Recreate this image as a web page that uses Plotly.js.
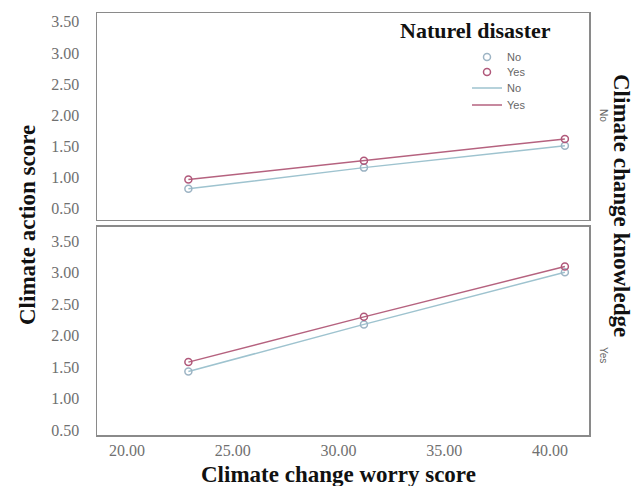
<!DOCTYPE html>
<html>
<head>
<meta charset="utf-8">
<script src="https://cdn.plot.ly/plotly-3.0.1.min.js"></script>
<style>html,body{margin:0;padding:0;background:#fff;}#chart{width:635px;height:486px;}</style>
</head>
<body>
<div id="chart"></div>
<script>
// Data
const worryScore = [22.9, 31.2, 40.7];
const knowledgeNo_disasterNo  = [0.82, 1.16, 1.51];
const knowledgeNo_disasterYes = [0.97, 1.27, 1.62];
const knowledgeYes_disasterNo  = [1.43, 2.18, 3.01];
const knowledgeYes_disasterYes = [1.58, 2.30, 3.10];
const disasterLabels = ['No', 'Yes'];
const knowledgeLabels = ['No', 'Yes'];
const yTicks = [0.5, 1.0, 1.5, 2.0, 2.5, 3.0, 3.5];
const xTicks = [20, 25, 30, 35, 40];

const colNo = '#9ec3cf';
const colYes = '#b5627f';
const mkNo = '#9db4c4';
const mkYes = '#b0587a';

function lineTrace(y, col, name, yaxis, legend, show) {
  return {x: worryScore, y: y, mode: 'lines', name: name, xaxis: yaxis === 'y' ? 'x' : 'x2', yaxis: yaxis,
    line: {color: col, width: 1.5}, legend: legend, showlegend: show, hoverinfo: 'skip'};
}
function markerTrace(y, col, name, yaxis, legend, show) {
  return {x: worryScore, y: y, mode: 'markers', name: name, xaxis: yaxis === 'y' ? 'x' : 'x2', yaxis: yaxis,
    marker: {symbol: 'circle-open', size: 7, color: col, line: {width: 1.5, color: col}},
    legend: legend, showlegend: show, hoverinfo: 'skip'};
}

const data = [
  lineTrace(knowledgeNo_disasterNo, colNo, disasterLabels[0], 'y', 'legend3', true),
  lineTrace(knowledgeNo_disasterYes, colYes, disasterLabels[1], 'y', 'legend4', true),
  markerTrace(knowledgeNo_disasterNo, mkNo, disasterLabels[0], 'y', 'legend', true),
  markerTrace(knowledgeNo_disasterYes, mkYes, disasterLabels[1], 'y', 'legend2', true),
  lineTrace(knowledgeYes_disasterNo, colNo, disasterLabels[0], 'y2', 'legend3', false),
  lineTrace(knowledgeYes_disasterYes, colYes, disasterLabels[1], 'y2', 'legend4', false),
  markerTrace(knowledgeYes_disasterNo, mkNo, disasterLabels[0], 'y2', 'legend', false),
  markerTrace(knowledgeYes_disasterYes, mkYes, disasterLabels[1], 'y2', 'legend2', false)
];

const tickFont = {family: 'Liberation Serif, Times New Roman, serif', size: 16, color: '#707070'};
const titleFont = {family: 'Liberation Serif, Times New Roman, serif', size: 23, color: '#111'};
const legFont = {family: 'Liberation Sans, Arial, sans-serif', size: 11, color: '#666'};
const axLine = {showline: true, linecolor: '#8a8a8a', linewidth: 1.5, mirror: true, showgrid: false, zeroline: false};

function leg(yPix) {
  return {x: (467 - 97) / 492, xanchor: 'left', y: 1 - (yPix - 13) / 422, yanchor: 'middle',
    bgcolor: 'rgba(0,0,0,0)', font: legFont, borderwidth: 0};
}

const layout = {
  width: 635, height: 486,
  margin: {l: 97, r: 46, t: 13, b: 51},
  paper_bgcolor: '#fff', plot_bgcolor: '#fff',
  xaxis: Object.assign({}, axLine, {range: [18.58, 41.84], showticklabels: false, ticks: '', anchor: 'y'}),
  xaxis2: Object.assign({}, axLine, {range: [18.58, 41.84], tickvals: xTicks, tickformat: '.2f', ticks: '',
    tickfont: tickFont, ticklabelstandoff: 0, anchor: 'y2'}),
  yaxis: Object.assign({}, axLine, {domain: [0.5095, 1], range: [0.32, 3.64], tickvals: yTicks, tickformat: '.2f',
    ticks: '', tickfont: tickFont, ticklabelstandoff: 13, anchor: 'x'}),
  yaxis2: Object.assign({}, axLine, {domain: [0, 0.4929], range: [0.42, 3.73], tickvals: yTicks, tickformat: '.2f',
    ticks: '', tickfont: tickFont, ticklabelstandoff: 13, anchor: 'x2'}),
  legend: leg(57), legend2: leg(72), legend3: leg(88), legend4: leg(105),
  annotations: [
    {text: '<b>Climate change worry score</b>', xref: 'paper', yref: 'paper', x: (338 - 97) / 492, y: (435 - 474) / 422,
      xanchor: 'center', yanchor: 'middle', showarrow: false, font: titleFont},
    {text: '<b>Climate action score</b>', xref: 'paper', yref: 'paper', x: (27 - 97) / 492, y: 1 - (225 - 13) / 422,
      xanchor: 'center', yanchor: 'middle', showarrow: false, textangle: -90, font: titleFont},
    {text: '<b>Climate change knowledge</b>', xref: 'paper', yref: 'paper', x: (622 - 97) / 492, y: 1 - (205 - 13) / 422,
      xanchor: 'center', yanchor: 'middle', showarrow: false, textangle: 90, font: titleFont},
    {text: knowledgeLabels[0], xref: 'paper', yref: 'paper', x: (603 - 97) / 492, y: 1 - (115 - 13) / 422,
      xanchor: 'center', yanchor: 'middle', showarrow: false, textangle: 90, font: {family: 'Liberation Sans, Arial, sans-serif', size: 10, color: '#666'}},
    {text: knowledgeLabels[1], xref: 'paper', yref: 'paper', x: (604 - 97) / 492, y: 1 - (355 - 13) / 422,
      xanchor: 'center', yanchor: 'middle', showarrow: false, textangle: 90, font: {family: 'Liberation Sans, Arial, sans-serif', size: 10, color: '#666'}},
    {text: '<b>Naturel disaster</b>', xref: 'paper', yref: 'paper', x: (475 - 97) / 492, y: 1 - (30 - 13) / 422,
      xanchor: 'center', yanchor: 'middle', showarrow: false, font: {family: 'Liberation Serif, Times New Roman, serif', size: 22, color: '#111'}}
  ],
  showlegend: true
};

Plotly.newPlot('chart', data, layout, {displayModeBar: false, staticPlot: true});
</script>
</body>
</html>
